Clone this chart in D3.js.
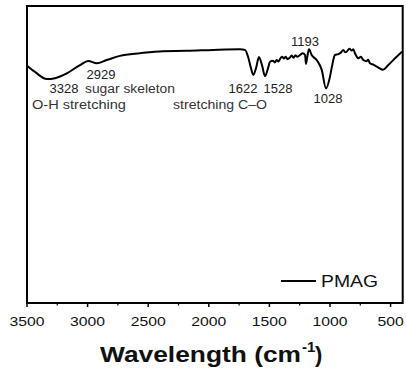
<!DOCTYPE html>
<html>
<head>
<meta charset="utf-8">
<script src="https://cdn.jsdelivr.net/npm/d3@7"></script>
<style>
  body { margin: 0; background: #fff; }
  svg { display: block; }
</style>
</head>
<body>
<svg id="chart"></svg>
<script>
// wavenumber (cm-1)
var wavenumbers = [3500, 3434, 3337, 3269, 3172, 3063, 2994, 2925, 2842, 2733, 2568, 2378, 2182, 1965, 1742, 1701, 1676, 1652, 1633, 1610, 1586, 1561, 1536, 1511, 1495, 1470, 1455, 1440, 1425, 1412, 1395, 1380, 1365, 1350, 1330, 1315, 1300, 1285, 1270, 1247, 1225, 1206, 1198, 1185, 1173, 1151, 1110, 1068, 1033, 1000, 984, 959, 931, 910, 890, 875, 862, 840, 821, 808, 794, 766, 745, 725, 700, 685, 670, 640, 614, 590, 565, 519, 463, 406]
// transmittance (arbitrary units)
var transmittance = [79.9, 77.8, 75.4, 75.7, 77.3, 80.1, 81.5, 80.7, 81.8, 83.2, 84.1, 84.8, 84.9, 85.2, 85.4, 85.2, 82.9, 79.1, 76.8, 79.1, 82.8, 80.1, 76.4, 79.1, 81.2, 81.6, 81.0, 81.8, 81.3, 82.2, 82.9, 82.3, 82.9, 82.1, 82.7, 83.3, 82.6, 83.4, 82.9, 83.5, 84.1, 83.5, 80.5, 83.5, 85.4, 83.5, 81.8, 78.5, 72.3, 76.2, 79.6, 83.5, 83.8, 84.3, 85.2, 84.4, 84.6, 85.6, 85.0, 85.4, 84.1, 82.4, 82.9, 81.8, 81.4, 81.9, 80.7, 80.2, 79.6, 79.0, 78.5, 80.1, 82.4, 84.6]
var xTicks = [3500, 3000, 2500, 2000, 1500, 1000, 500]
var xMinorTicks = [3250, 2750, 2250, 1750, 1250, 750]
var seriesName = "PMAG"

// peak annotations
var peakLabels = ["3328", "2929", "1622", "1528", "1193", "1028"]
var noteLabels = ["sugar skeleton", "O-H stretching", "stretching C\u2013O"]

var W = 406, H = 371
var svg = d3.select("#chart").attr("width", W).attr("height", H)

var x = d3.scaleLinear().domain([3500, 400]).range([27, 402.7])
var y = d3.scaleLinear().domain([0, 100]).range([303, 6])

var data = wavenumbers.map((d, i) => ({ wn: d, t: transmittance[i] }))
var axisFont = "Liberation Sans, Arial, sans-serif"

// frame
svg.append("rect")
  .attr("x", x(3500)).attr("y", y(100))
  .attr("width", x(400) - x(3500)).attr("height", y(0) - y(100))
  .attr("fill", "none").attr("stroke", "#000").attr("stroke-width", 2)

// bottom axis
var axis = svg.append("g").attr("transform", `translate(0,${y(0)})`)
axis.selectAll("line.major").data(xTicks).enter().append("line")
  .attr("x1", d => x(d)).attr("x2", d => x(d))
  .attr("y1", 0).attr("y2", 4)
  .attr("stroke", "#000").attr("stroke-width", 1.5)
axis.selectAll("line.minor").data(xMinorTicks).enter().append("line")
  .attr("x1", d => x(d)).attr("x2", d => x(d))
  .attr("y1", 0).attr("y2", 2.5)
  .attr("stroke", "#000").attr("stroke-width", 1.2)
axis.selectAll("text").data(xTicks).enter().append("text")
  .text(d => d)
  .attr("x", d => x(d)).attr("y", 23)
  .attr("text-anchor", "middle")
  .attr("textLength", d => String(d).length * 8.75)
  .attr("lengthAdjust", "spacingAndGlyphs")
  .style("font-family", axisFont)
  .style("font-size", "13.5px")
  .attr("fill", "#111")

// axis title
svg.append("text")
  .text("Wavelength (cm")
  .attr("x", 100).attr("y", 362)
  .attr("textLength", 201)
  .attr("lengthAdjust", "spacingAndGlyphs")
  .style("font-family", axisFont)
  .style("font-size", "22px")
  .style("font-weight", "bold")
  .attr("fill", "#111")
svg.append("text")
  .text("-1")
  .attr("x", 302).attr("y", 352)
  .style("font-family", axisFont)
  .style("font-size", "15px")
  .style("font-weight", "bold")
  .attr("fill", "#111")
svg.append("text")
  .text(")")
  .attr("x", 315).attr("y", 362)
  .style("font-family", axisFont)
  .style("font-size", "22px")
  .style("font-weight", "bold")
  .attr("fill", "#111")

// spectrum
var line = d3.line()
  .x(d => x(d.wn))
  .y(d => y(d.t))
  .curve(d3.curveMonotoneX)
svg.append("path")
  .datum(data)
  .attr("d", line)
  .attr("fill", "none")
  .attr("stroke", "#000")
  .attr("stroke-width", 2)
  .attr("stroke-linejoin", "round")

// annotations
var peakPos = [[64, 92.5], [101, 78.5], [243, 92.5], [278, 92.5], [305, 46], [328, 103]]
svg.selectAll("text.peak").data(peakLabels).enter().append("text")
  .attr("class", "peak")
  .text(d => d)
  .attr("x", (d, i) => peakPos[i][0]).attr("y", (d, i) => peakPos[i][1])
  .attr("text-anchor", "middle")
  .style("font-family", axisFont)
  .style("font-size", "13px")
  .attr("fill", "#222")
var notePos = [[85, 92.5], [32, 108.5], [173, 108.5]]
var noteWidth = [90, 94, 94]
svg.selectAll("text.note").data(noteLabels).enter().append("text")
  .attr("class", "note")
  .text(d => d)
  .attr("x", (d, i) => notePos[i][0]).attr("y", (d, i) => notePos[i][1])
  .attr("textLength", (d, i) => noteWidth[i])
  .attr("lengthAdjust", "spacingAndGlyphs")
  .style("font-family", axisFont)
  .style("font-size", "12.5px")
  .attr("fill", "#333")

// legend
svg.append("line")
  .attr("x1", 281).attr("x2", 316).attr("y1", 281).attr("y2", 281)
  .attr("stroke", "#000").attr("stroke-width", 2)
svg.append("text")
  .text(seriesName)
  .attr("x", 321).attr("y", 287)
  .attr("textLength", 57)
  .attr("lengthAdjust", "spacingAndGlyphs")
  .style("font-family", axisFont)
  .style("font-size", "16px")
  .attr("fill", "#111")
</script>
</body>
</html>
